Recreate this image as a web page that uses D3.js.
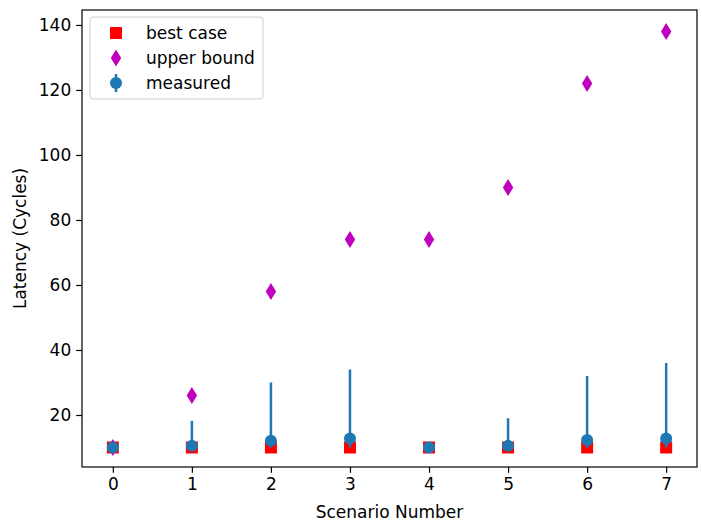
<!DOCTYPE html>
<html>
<head>
<meta charset="utf-8">
<script src="https://cdn.jsdelivr.net/npm/d3@7"></script>
<style>
  body { margin: 0; background: #fff; }
  text { font-family: "DejaVu Sans", sans-serif; }
</style>
</head>
<body>
<div id="chart"></div>
<script>
// scenario data
const scenarios = [0, 1, 2, 3, 4, 5, 6, 7];
const bestCase = [10, 10, 10, 10, 10, 10, 10, 10];
const upperBound = [10, 26, 58, 74, 74, 90, 122, 138];
const measured = [10, 10.5, 12.1, 12.8, 10, 10.5, 12.3, 12.8];
const measuredMin = [10, 10, 10, 10, 10, 10, 10, 10];
const measuredMax = [10, 18.2, 30, 34, 10, 19, 32, 36];
const yTicks = [20, 40, 60, 80, 100, 120, 140];

const W = 702, H = 527;
const FS = 17;
const margin = { top: 10, right: 5, bottom: 60, left: 82 };

const svg = d3.select("#chart").append("svg")
  .attr("width", W).attr("height", H);

const x = d3.scaleLinear().domain([-0.39, 7.39]).range([margin.left, W - margin.right]);
const y = d3.scaleLinear().domain([4, 144.6]).range([H - margin.bottom, margin.top]);

// axes
const xAxis = svg.append("g")
  .attr("transform", `translate(0,${H - margin.bottom})`)
  .call(d3.axisBottom(x).tickValues(scenarios).tickSize(5.8).tickPadding(5));
const yAxis = svg.append("g")
  .attr("transform", `translate(${margin.left},0)`)
  .call(d3.axisLeft(y).tickValues(yTicks).tickSize(5.8).tickPadding(5));

[xAxis, yAxis].forEach(function (g) {
  g.select(".domain").remove();
  g.selectAll("text").attr("font-size", FS).attr("fill", "#000").style("font-family", "DejaVu Sans");
  g.selectAll("line").attr("stroke", "#000").attr("stroke-width", 1.2);
});

// frame
svg.append("rect")
  .attr("x", margin.left).attr("y", margin.top)
  .attr("width", W - margin.right - margin.left)
  .attr("height", H - margin.bottom - margin.top)
  .attr("fill", "none").attr("stroke", "#000").attr("stroke-width", 1.2);

// labels
svg.append("text")
  .attr("x", (margin.left + W - margin.right) / 2).attr("y", 518)
  .attr("text-anchor", "middle").attr("font-size", FS)
  .text("Scenario Number");
svg.append("text")
  .attr("transform", `translate(26,${(margin.top + H - margin.bottom) / 2}) rotate(-90)`)
  .attr("text-anchor", "middle").attr("font-size", FS)
  .text("Latency (Cycles)");

const plot = svg.append("g");

// best case squares
plot.selectAll(".best").data(scenarios).enter().append("rect")
  .attr("x", d => x(d) - 6).attr("y", (d, i) => y(bestCase[i]) - 6)
  .attr("width", 12).attr("height", 12).attr("fill", "#ff0000");

// upper bound thin diamonds
const diamond = "M0,-8.5L5.2,0L0,8.5L-5.2,0Z";
plot.selectAll(".ub").data(scenarios).enter().append("path")
  .attr("d", diamond)
  .attr("transform", (d, i) => `translate(${x(d)},${y(upperBound[i])})`)
  .attr("fill", "#bf00bf");

// measured with error bars
plot.selectAll(".err").data(scenarios).enter().append("line")
  .attr("x1", d => x(d)).attr("x2", d => x(d))
  .attr("y1", (d, i) => y(measuredMin[i])).attr("y2", (d, i) => y(measuredMax[i]))
  .attr("stroke", "#1f77b4").attr("stroke-width", 2.5);
plot.selectAll(".meas").data(scenarios).enter().append("circle")
  .attr("cx", d => x(d)).attr("cy", (d, i) => y(measured[i]))
  .attr("r", 6).attr("fill", "#1f77b4");

// legend
const lg = svg.append("g").attr("transform", "translate(90,17)");
lg.append("rect").attr("width", 173).attr("height", 82).attr("rx", 3)
  .attr("fill", "#fff").attr("fill-opacity", 0.8).attr("stroke", "#ccc");
const rows = ["best case", "upper bound", "measured"];
rows.forEach(function (t, i) {
  const cy = 16 + i * 25;
  if (i === 0) {
    lg.append("rect").attr("x", 20).attr("y", cy - 6).attr("width", 12).attr("height", 12).attr("fill", "#ff0000");
  } else if (i === 1) {
    lg.append("path").attr("d", diamond).attr("transform", `translate(26,${cy})`).attr("fill", "#bf00bf");
  } else {
    lg.append("line").attr("x1", 26).attr("x2", 26).attr("y1", cy - 9).attr("y2", cy + 9)
      .attr("stroke", "#1f77b4").attr("stroke-width", 2.5);
    lg.append("circle").attr("cx", 26).attr("cy", cy).attr("r", 6).attr("fill", "#1f77b4");
  }
  lg.append("text").attr("x", 56).attr("y", cy + 6).attr("font-size", FS).text(t);
});
</script>
</body>
</html>
